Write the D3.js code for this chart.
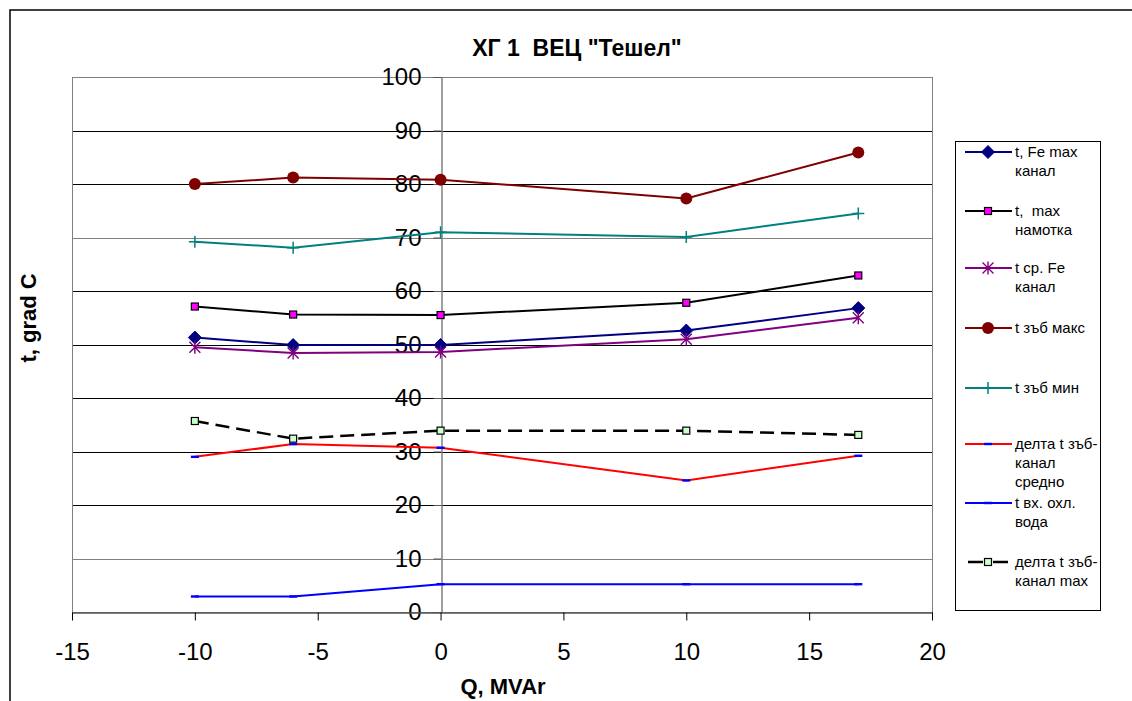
<!DOCTYPE html>
<html>
<head>
<meta charset="utf-8">
<script src="https://cdn.jsdelivr.net/npm/d3@7"></script>
<style>
  html, body { margin: 0; padding: 0; background: #fff; }
  svg { display: block; font-family: Arial, "Liberation Sans", sans-serif; }
</style>
</head>
<body>
<svg id="chart" width="1132" height="701"></svg>
<script>
// Reactive power Q (MVAr) at each measured operating point
const qValues = [-10, -6, 0, 10, 17];

// Temperatures, grad C
const feMaxChannel   = [51.3, 49.9, 49.9, 52.6, 56.8];
const windingMax     = [57.1, 55.6, 55.5, 57.8, 62.9];
const feMeanChannel  = [49.5, 48.4, 48.6, 51.0, 55.0];
const toothMax       = [80.0, 81.2, 80.8, 77.3, 85.9];
const toothMin       = [69.2, 68.1, 71.0, 70.1, 74.5];
const deltaMean      = [29.0, 31.4, 30.7, 24.6, 29.2];
const waterIn        = [2.9, 2.9, 5.2, 5.2, 5.2];
const deltaMax       = [35.7, 32.4, 33.9, 33.9, 33.1];

const seriesNames = [
  ["t, Fe max", "канал"],
  ["t,  max", "намотка"],
  ["t ср. Fe", "канал"],
  ["t зъб макс"],
  ["t зъб мин"],
  ["делта t зъб-", "канал", "средно"],
  ["t вх. охл.", "вода"],
  ["делта t зъб-", "канал max"]
];

const xTicks = [-15, -10, -5, 0, 5, 10, 15, 20];
const yTicks = [0, 10, 20, 30, 40, 50, 60, 70, 80, 90, 100];

const series = [
  { values: feMaxChannel,  line: "#000080", marker: "diamond",  fill: "#000080", stroke: "#000080" },
  { values: windingMax,    line: "#000000", marker: "square",   fill: "#FF00FF", stroke: "#000000" },
  { values: feMeanChannel, line: "#800080", marker: "asterisk", fill: "none",    stroke: "#800080" },
  { values: toothMax,      line: "#800000", marker: "circle",   fill: "#800000", stroke: "#800000" },
  { values: toothMin,      line: "#008080", marker: "plus",     fill: "none",    stroke: "#008080" },
  { values: deltaMean,     line: "#FF0000", marker: "dash",     fill: "#0000FF", stroke: "#0000FF" },
  { values: waterIn,       line: "#0000FF", marker: "dash",     fill: "#0000FF", stroke: "#0000FF" },
  { values: deltaMax,      line: "#000000", marker: "square",   fill: "#CCFFCC", stroke: "#000000", dash: "14,7", width: 2.5 }
];

const svg = d3.select("#chart");

// outer frame
svg.append("path")
  .attr("d", "M10,701 L10,10 L1132,10")
  .attr("fill", "none").attr("stroke", "#000").attr("stroke-width", 1.5);

const plotLeft = 72, plotRight = 932, plotTop = 77, plotBottom = 612;
const x = d3.scaleLinear().domain([-15, 20]).range([plotLeft, plotRight]);
const y = d3.scaleLinear().domain([0, 100]).range([plotBottom, plotTop]);

// horizontal gridlines
const grayGrid = new Set([70, 10]);
svg.append("g").selectAll("line")
  .data(yTicks.filter(v => v > 0 && v < 100))
  .join("line")
  .attr("x1", plotLeft).attr("x2", plotRight)
  .attr("y1", d => Math.round(y(d)) + 0.5).attr("y2", d => Math.round(y(d)) + 0.5)
  .attr("stroke", d => grayGrid.has(d) ? "#808080" : "#000")
  .attr("stroke-width", 1);

// plot area border
svg.append("rect")
  .attr("x", plotLeft + 0.5).attr("y", plotTop + 0.5)
  .attr("width", plotRight - plotLeft).attr("height", plotBottom - plotTop)
  .attr("fill", "none").attr("stroke", "#808080").attr("stroke-width", 1);

// plain hyphen-minus tick labels
const plainFormat = d => String(d);

// Y axis at Q = 0
const yAxis = svg.append("g")
  .attr("transform", `translate(${Math.round(x(0)) + 0.5},0)`)
  .call(d3.axisLeft(y).tickValues(yTicks).tickFormat(plainFormat)
    .tickSize(8).tickPadding(12).tickSizeOuter(0));
yAxis.select(".domain").attr("stroke", "#808080").attr("stroke-width", 1.5);
yAxis.selectAll(".tick line").attr("stroke", "#555");
yAxis.selectAll("text").attr("font-size", 24).attr("fill", "#000")
  .attr("font-family", "Arial, 'Liberation Sans', sans-serif");

// X axis
const xAxis = svg.append("g")
  .attr("transform", `translate(0,${plotBottom + 0.5})`)
  .call(d3.axisBottom(x).tickValues(xTicks).tickFormat(plainFormat)
    .tickSize(8).tickPadding(22).tickSizeOuter(0));
xAxis.select(".domain").attr("stroke", "#555").attr("stroke-width", 1.5);
xAxis.selectAll(".tick line").attr("stroke", "#000");
xAxis.selectAll("text").attr("font-size", 24).attr("fill", "#000")
  .attr("font-family", "Arial, 'Liberation Sans', sans-serif");

// markers
function drawMarker(g, type, cx, cy, s) {
  if (type === "diamond") {
    g.append("path").attr("d", `M${cx},${cy-6.5}L${cx+6.5},${cy}L${cx},${cy+6.5}L${cx-6.5},${cy}Z`)
      .attr("fill", s.fill).attr("stroke", s.stroke);
  } else if (type === "square") {
    g.append("rect").attr("x", cx - 3.5).attr("y", cy - 3.5).attr("width", 7).attr("height", 7)
      .attr("fill", s.fill).attr("stroke", s.stroke).attr("stroke-width", 1.2);
  } else if (type === "circle") {
    g.append("circle").attr("cx", cx).attr("cy", cy).attr("r", 6).attr("fill", s.fill);
  } else if (type === "plus") {
    g.append("path").attr("d", `M${cx-6},${cy}H${cx+6}M${cx},${cy-6}V${cy+6}`)
      .attr("stroke", s.stroke).attr("stroke-width", 1.5).attr("fill", "none");
  } else if (type === "asterisk") {
    g.append("path").attr("d", `M${cx-5.5},${cy-5.5}L${cx+5.5},${cy+5.5}M${cx-5.5},${cy+5.5}L${cx+5.5},${cy-5.5}M${cx},${cy-6.5}V${cy+6.5}`)
      .attr("stroke", s.stroke).attr("stroke-width", 1.4).attr("fill", "none");
  } else if (type === "dash") {
    g.append("rect").attr("x", cx - 4).attr("y", cy - 1.2).attr("width", 8).attr("height", 2.4)
      .attr("fill", s.fill);
  }
}

const line = d3.line().x(d => x(d[0])).y(d => y(d[1]));
const plot = svg.append("g");
series.forEach(s => {
  const pts = qValues.map((q, i) => [q, s.values[i]]);
  const g = plot.append("g");
  g.append("path").attr("d", line(pts))
    .attr("fill", "none").attr("stroke", s.line)
    .attr("stroke-width", s.width || 2)
    .attr("stroke-dasharray", s.dash || null);
  pts.forEach(p => drawMarker(g, s.marker, x(p[0]), y(p[1]), s));
});

// title and axis titles
svg.append("text").attr("x", 577).attr("y", 56).attr("text-anchor", "middle")
  .attr("font-size", 23).attr("font-weight", "bold").style("white-space", "pre")
  .text("ХГ 1  ВЕЦ \"Тешел\"");
svg.append("text").attr("x", 503).attr("y", 694).attr("text-anchor", "middle")
  .attr("font-size", 22).attr("font-weight", "bold").text("Q, MVAr");
svg.append("text").attr("transform", "translate(36,318) rotate(-90)").attr("text-anchor", "middle")
  .attr("font-size", 22).attr("font-weight", "bold").text("t, grad C");

// legend
const legend = svg.append("g");
legend.append("rect").attr("x", 955.5).attr("y", 141.5).attr("width", 145).attr("height", 469)
  .attr("fill", "#fff").attr("stroke", "#000").attr("stroke-width", 1);
const rowY = [152, 211, 268, 328, 388, 444, 503, 562];
series.forEach((s, i) => {
  const ly = rowY[i];
  const g = legend.append("g");
  if (s.dash) {
    g.append("path").attr("d", `M968,${ly}H983M993,${ly}H1008`)
      .attr("stroke", s.line).attr("stroke-width", s.width || 2);
  } else {
    g.append("line").attr("x1", 965).attr("x2", 1012).attr("y1", ly).attr("y2", ly)
      .attr("stroke", s.line).attr("stroke-width", 2);
  }
  drawMarker(g, s.marker, 988, ly, s);
  seriesNames[i].forEach((t, j) => {
    g.append("text").attr("x", 1015).attr("y", ly + j * 19).attr("dy", "0.35em")
      .attr("font-size", 15).style("white-space", "pre").text(t);
  });
});
</script>
</body>
</html>
